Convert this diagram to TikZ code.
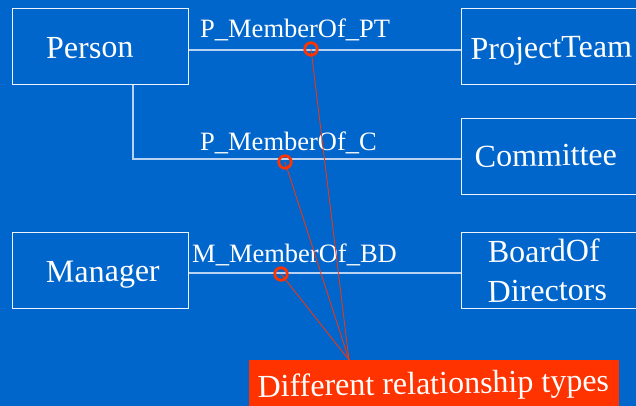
\documentclass[tikz,border=0pt]{standalone}
\usepackage{fontspec}
\setmainfont{Liberation Serif}
\definecolor{bg}{HTML}{0066CC}
\definecolor{hl}{HTML}{FF3300}
\definecolor{edge}{HTML}{EEF4FF}
\definecolor{link}{HTML}{B8D2F4}
\begin{document}
\begin{tikzpicture}[x=1pt,y=-1pt,
  entity/.style={draw=edge,line width=1.1pt,minimum width=176pt,minimum height=76pt,inner sep=0pt,anchor=north west},
  ename/.style={text=white,font=\fontsize{32}{36}\selectfont,anchor=base,inner sep=0pt,rotate=1},
  rname/.style={text=white,font=\fontsize{26.5}{30}\selectfont,anchor=base west,inner sep=0pt},
  rel/.style={draw=link,line width=1.5pt},
  ring/.style={draw=hl,line width=2.8pt,circle,minimum size=12.5pt,inner sep=0pt},
  pointer/.style={draw=hl,line width=0.8pt}]
\useasboundingbox (0,0) rectangle (636,406);
\fill[bg] (0,0) rectangle (636,406);

% entity boxes
\node[entity] (person) at (12,8) {};
\node[entity] (team) at (461,8) {};
\node[entity] (committee) at (461,118) {};
\node[entity] (manager) at (12,232) {};
\node[entity] (board) at (461,232) {};

% entity names, placed by the centre of their baseline
\node[ename] (tperson) at (90,58) {Person};
\node[ename] (tteam) at (551.5,58) {ProjectTeam};
\node[ename] (tcommittee) at (546,166) {Committee};
\node[ename] (tmanager) at (103,282) {Manager};
\node[ename] (tboard) at (544,262) {BoardOf};
\node[ename] (tboard2) at (547.5,301) {Directors};

% relationships
\coordinate (bend) at (133,159);
\draw[rel] (person.east |- 0,50) -- (team.west |- 0,50);
\draw[rel] (person.south -| bend) -- (bend) -- (committee.west |- bend);
\draw[rel] (manager.east |- 0,273) -- (board.west |- 0,273);

\node[rname] (lpt) at (200,38) {P\_MemberOf\_PT};
\node[rname] (lc) at (200,150) {P\_MemberOf\_C};
\node[rname] (lbd) at (192,262) {M\_MemberOf\_BD};

% callout
\node[fill=hl,minimum width=370pt,minimum height=48pt,inner sep=0pt,anchor=north west] (note) at (249,360) {};
\node[ename] (tnote) at (433.5,394) {Different relationship types};
\coordinate (tip) at (349,360);

\node[ring] (rpt) at (311,49) {};
\node[ring] (rc) at (285,162) {};
\node[ring] (rbd) at (281,274) {};
\draw[pointer] (rpt.center) -- (tip);
\draw[pointer] (rc.center) -- (tip);
\draw[pointer] (rbd.center) -- (tip);
\end{tikzpicture}
\end{document}
